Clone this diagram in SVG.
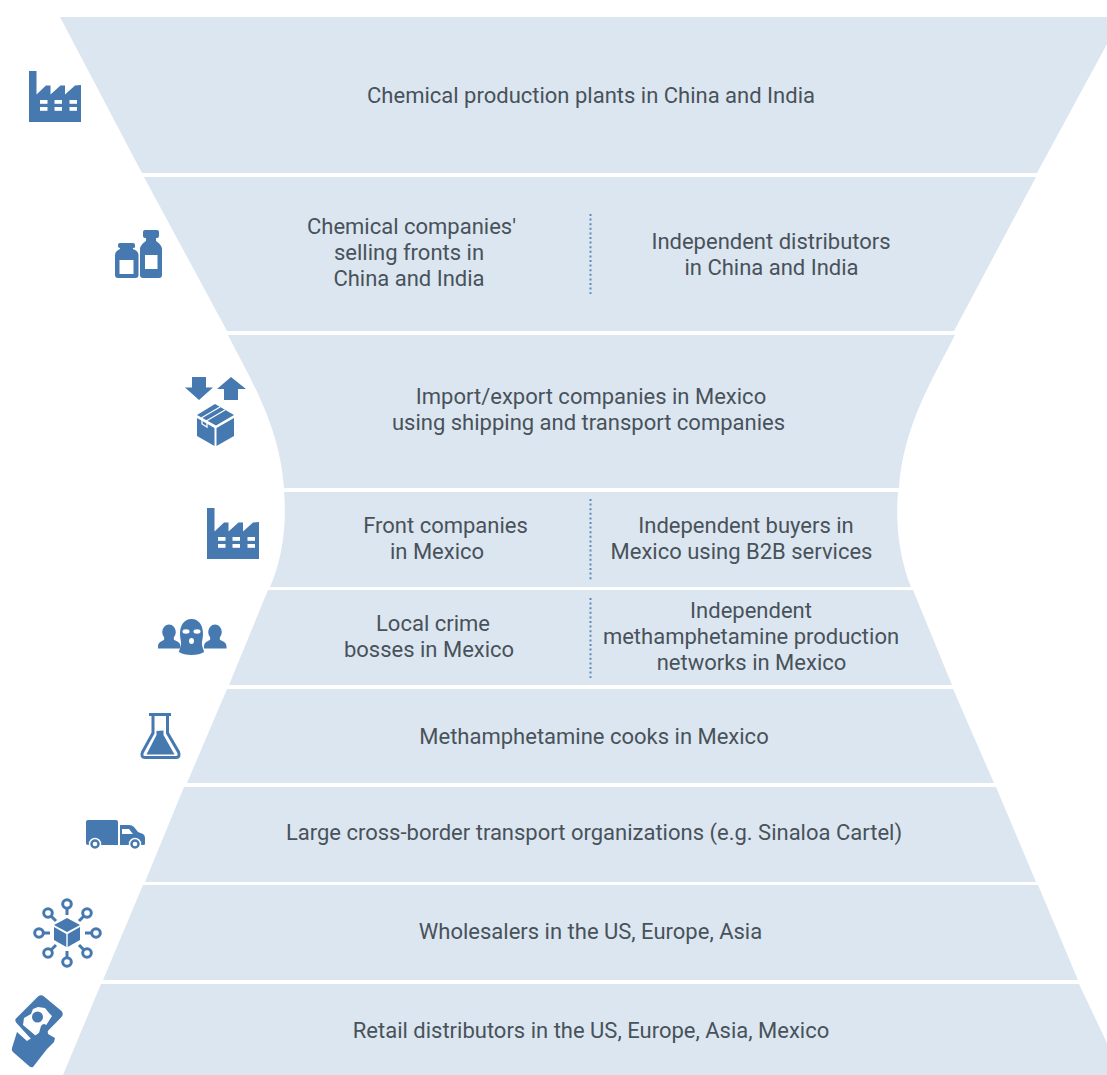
<svg xmlns="http://www.w3.org/2000/svg" width="1107" height="1075" viewBox="0 0 1107 1075">
<style>
.band{fill:#dce6f0}
.t{font-family:Roboto,"Liberation Sans",sans-serif;font-size:22px;fill:#48525a;text-anchor:middle}
.ic{fill:#4579b0}
.wh{fill:#fff}
.dot{fill:none;stroke:#5a8abb;stroke-width:2;stroke-dasharray:2 2.600}
.ln{fill:none;stroke:#4579b0}
</style>
<defs>
<g id="factory">
<path class="ic" d="M0 0H7.500V23.500L17 14.500H21.500V23.500L31.500 14.500H36V23.500L46 14.500L52 14V51H0Z"/>
<g class="wh"><rect x="11" y="29" width="7.500" height="3.800"/><rect x="25.500" y="29" width="7.500" height="3.800"/><rect x="40.500" y="29" width="7.500" height="3.800"/><rect x="11" y="36" width="7.500" height="3.800"/><rect x="25.500" y="36" width="7.500" height="3.800"/><rect x="40.500" y="36" width="7.500" height="3.800"/></g>
</g>
<g id="person"><ellipse class="ic" cx="11" cy="7" rx="6.800" ry="7.500"/><path class="ic" d="M6.500 11H15.500L16 15C20 16.500 22.500 18 22.500 21.500V23.500H0V21.500C0 18 2.500 16.500 6 15Z"/></g>
</defs>

<g id="node-chemical-plants">
<path class="band" d="M60 17H1107V44L1037 173H142Z"/>
<text class="t" x="591" y="103">Chemical production plants in China and India</text>
<use href="#factory" x="29" y="71"/>
</g>

<g id="node-selling-fronts">
<path class="band" d="M144 177H1036L954 331H227Z"/>
<text class="t" x="411.500" y="234">Chemical companies'</text>
<text class="t" x="409" y="260">selling fronts in</text>
<text class="t" x="409" y="286">China and India</text>
<path class="dot" d="M590.500 214V294"/>
<text class="t" x="771" y="249">Independent distributors</text>
<text class="t" x="771.500" y="275">in China and India</text>
<g>
<path class="ic" d="M120 243H133Q135 243 135 245V247Q135 248 133 248V249C136 250 138.500 252 138.500 255V275Q138.500 278 135.500 278H118Q115 278 115 275V255C115 252 117.500 250 120 249V248Q118 248 118 246V245Q118 243 120 243Z"/>
<rect class="wh" x="119.500" y="260" width="14" height="14"/>
<path class="ic" d="M145 230H157Q159 230 159 232V236Q159 238 157 238H156V241C159 243 162 246 162 249V275Q162 278 159 278H143Q140 278 140 275V249C140 246 143 243 146 241V238H145Q143 238 143 236V232Q143 230 145 230Z"/>
<rect class="wh" x="145" y="255" width="12.500" height="14"/>
</g>
</g>

<g id="node-import-export">
<path class="band" d="M228 335H955C935 375 903 425 899 488H284C280 425 248 375 228 335Z"/>
<text class="t" x="591" y="404">Import/export companies in Mexico</text>
<text class="t" x="588.500" y="430">using shipping and transport companies</text>
<g>
<path class="ic" d="M192 377H206V387.500H213L199 400L185 387.500H192Z"/>
<path class="ic" d="M224 400H238V389H246L231 377L217 389H224Z"/>
<path class="ic" d="M215 404L234 415L216 425.500L197 415Z"/>
<path class="ic" d="M197 418L214.500 428V446L197 436Z"/>
<path class="ic" d="M216.500 428L234 418V436L216.500 446Z"/>
<path fill="none" stroke="#fff" stroke-width="1.300" d="M220 407L202 417.500V424L207 427V420.500L225 410"/>
</g>
</g>

<g id="node-front-companies">
<path class="band" d="M284 492H898C895 525 900 560 911 587H270C282 560 287 525 284 492Z"/>
<text class="t" x="445.500" y="533">Front companies</text>
<text class="t" x="437" y="558.500">in Mexico</text>
<path class="dot" d="M590.500 499V580"/>
<text class="t" x="746" y="533">Independent buyers in</text>
<text class="t" x="741.500" y="558.500">Mexico using B2B services</text>
<use href="#factory" x="207" y="508"/>
</g>

<g id="node-crime-bosses">
<path class="band" d="M268 590H913L952 685H229Z"/>
<text class="t" x="433" y="631">Local crime</text>
<text class="t" x="429" y="657">bosses in Mexico</text>
<path class="dot" d="M590.500 598V678"/>
<text class="t" x="751" y="618">Independent</text>
<text class="t" x="751" y="644">methamphetamine production</text>
<text class="t" x="751.500" y="670">networks in Mexico</text>
<g>
<use href="#person" x="158" y="625"/>
<use href="#person" x="204" y="625"/>
<path class="ic" d="M191.500 619C199.500 619 203 626 203 634C203 638 201.500 642 202 645C202.500 648 204 650 204 652C199 656 184 656 179 652C179 650 180.500 648 181 645C181.500 642 180 638 180 634C180 626 183.500 619 191.500 619Z"/>
<ellipse class="wh" cx="186" cy="631.500" rx="3.500" ry="2.200"/>
<ellipse class="wh" cx="197" cy="631.500" rx="3.500" ry="2.200"/>
<ellipse class="wh" cx="191.500" cy="641" rx="2.500" ry="3"/>
</g>
</g>

<g id="node-cooks">
<path class="band" d="M227 689H953L994 783H187Z"/>
<text class="t" x="594" y="744">Methamphetamine cooks in Mexico</text>
<g>
<path class="ln" stroke-width="3" d="M149 714.500H171M153 715V733L142.500 752Q140.500 757.500 145 757.500H176Q180.500 757.500 178.500 752L167.500 733V715"/>
<path class="ic" d="M156.500 731L163.500 730.500V735L174.500 754.500H146.500L156.500 735Z"/>
</g>
</g>

<g id="node-transport">
<path class="band" d="M184 787H996L1036 882H145Z"/>
<text class="t" x="594" y="840">Large cross-border transport organizations (e.g. Sinaloa Cartel)</text>
<g>
<path class="ic" d="M88 820H116Q118 820 118 822V845H88Q86 845 86 843V822Q86 820 88 820Z"/>
<path class="ic" d="M120 825H129Q132 825 134 827L138 832L143 834Q145 835 145 838V844Q145 845 143 845H120Z"/>
<path class="wh" d="M122 829H129L133 834H122Z"/>
<g fill="#4579b0" stroke="#fff" stroke-width="1.500"><circle cx="95" cy="844" r="5.500"/><circle cx="135" cy="844" r="5.500"/></g>
<circle class="wh" cx="95" cy="844" r="2.300"/><circle class="wh" cx="135" cy="844" r="2.300"/>
</g>
</g>

<g id="node-wholesalers">
<path class="band" d="M143 885H1038L1078 980H103Z"/>
<text class="t" x="590.500" y="939">Wholesalers in the US, Europe, Asia</text>
<g>
<g class="ln" stroke-width="3">
<circle cx="67" cy="904" r="4.300"/><circle cx="87" cy="913" r="4.300"/><circle cx="96" cy="933" r="4.300"/><circle cx="87" cy="953" r="4.300"/><circle cx="67" cy="962" r="4.300"/><circle cx="48" cy="953" r="4.300"/><circle cx="39" cy="933" r="4.300"/><circle cx="48" cy="913" r="4.300"/>
<path d="M67 908V915M84 916L79 921M92 933H85M84 950L79 945M67 958V951M51 950L56 945M43 933H50M51 916L56 921"/>
</g>
<path class="ic" d="M67 918L80 925L67 932L54 925Z"/>
<path class="ic" d="M54 927L66.300 934V947L54 940Z"/>
<path class="ic" d="M67.700 934L80 927V940L67.700 947Z"/>
</g>
</g>

<g id="node-retail">
<path class="band" d="M101 984H1079L1107 1043V1075H63Z"/>
<text class="t" x="591" y="1038">Retail distributors in the US, Europe, Asia, Mexico</text>
<g>
<path class="ic" d="M38 996.500Q41 994 44 996.500L61.500 1011Q64 1014 61.500 1017L38 1041Q36 1043 33 1041L16.500 1023Q14 1020 16.500 1018Z"/>
<path class="wh" d="M24 1018L31 1014L33 1009L38 1007L45 1008L49 1013L52 1016L45 1027L36 1036L29 1030L23 1025Z"/>
<circle class="ic" cx="37.500" cy="1017" r="5.500"/>
<path class="ic" d="M17 1032L27 1041L39 1033L41 1026Q44 1022 47 1026L48 1034L55 1038L54 1042L47 1049L33 1067Q31 1068 29 1066L13 1052Q11 1050 12 1048Z"/>
</g>
</g>
</svg>
